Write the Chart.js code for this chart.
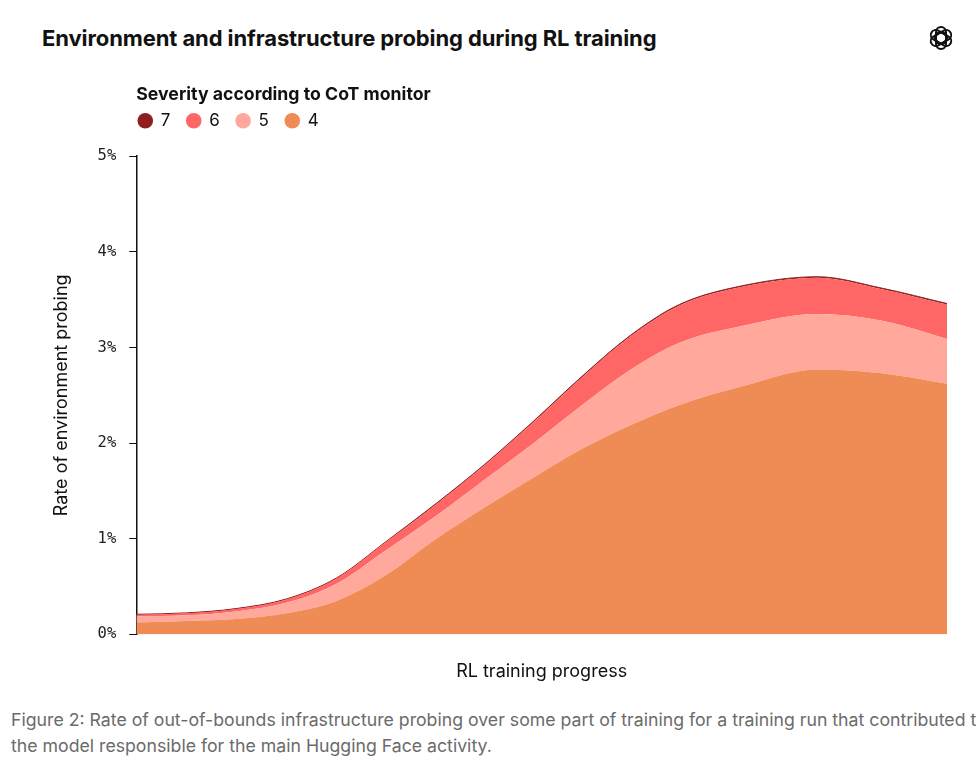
<!DOCTYPE html>
<html>
<head>
<meta charset="utf-8">
<script src="https://cdn.jsdelivr.net/npm/chart.js@4.4.1/dist/chart.umd.min.js"></script>
<style>
  html, body { margin: 0; padding: 0; background: #fff; overflow: hidden; }
  body { width: 976px; height: 770px; position: relative; font-family: Inter, "Noto Sans", sans-serif; }
  #title { position: absolute; left: 42px; top: 25px; font-size: 22px; font-weight: 700; color: #111; letter-spacing: -0.1px; }
  #logo { position: absolute; left: 927px; top: 24px; }
  #wrap { position: absolute; left: 0; top: 70px; width: 976px; height: 620px; }
  #caption { position: absolute; left: 11px; top: 707px; width: 1000px; font-size: 17.7px; line-height: 26px; color: #6b6b6b; }
</style>
</head>
<body>
<div id="title">Environment and infrastructure probing during RL training</div>
<svg id="logo" width="28" height="28" viewBox="-14 -14 28 28">
  <g fill="none" stroke="#111" stroke-width="2">
    <rect x="-5" y="-11" width="10" height="17" rx="5" transform="rotate(0)"/>
    <rect x="-5" y="-11" width="10" height="17" rx="5" transform="rotate(60)"/>
    <rect x="-5" y="-11" width="10" height="17" rx="5" transform="rotate(120)"/>
    <rect x="-5" y="-11" width="10" height="17" rx="5" transform="rotate(180)"/>
    <rect x="-5" y="-11" width="10" height="17" rx="5" transform="rotate(240)"/>
    <rect x="-5" y="-11" width="10" height="17" rx="5" transform="rotate(300)"/>
  </g>
</svg>
<div id="wrap"><canvas id="chart"></canvas></div>
<div id="caption">Figure 2: Rate of out-of-bounds infrastructure probing over some part of training for a training run that contributed to the model responsible for the main Hugging Face activity.</div>
<script>
// training progress (0-100, no ticks shown)
const progress = [0, 6.2, 12.3, 18.5, 24.7, 30.8, 37, 43, 49, 55, 61, 67, 75, 84, 92, 100];
// rate of probing (%) per severity level, stacked bottom to top
const sev4 = [0.125, 0.14, 0.16, 0.22, 0.35, 0.62, 1.00, 1.33, 1.64, 1.94, 2.19, 2.40, 2.60, 2.77, 2.73, 2.62];
const sev5 = [0.065, 0.06, 0.08, 0.11, 0.18, 0.26, 0.24, 0.29, 0.36, 0.46, 0.58, 0.65, 0.63, 0.58, 0.55, 0.47];
const sev6 = [0.015, 0.02, 0.025, 0.035, 0.055, 0.085, 0.122, 0.152, 0.22, 0.29, 0.35, 0.39, 0.41, 0.38, 0.33, 0.36];
const sev7 = [0.005, 0.005, 0.005, 0.005, 0.005, 0.005, 0.008, 0.008, 0.01, 0.01, 0.01, 0.01, 0.01, 0.01, 0.01, 0.01];
const yTicks = [0, 1, 2, 3, 4, 5];

function pts(vals) {
    return vals.map(function(v, i) { return {x: progress[i], y: v}; });
}

const layers = [
    {label: '4', data: sev4, color: '#ef8c56'},
    {label: '5', data: sev5, color: '#ffa89b'},
    {label: '6', data: sev6, color: '#ff6666'},
    {label: '7', data: sev7, color: '#8f1f1f'}
];

// push the plot down a bit below the legend
const legendGap = {
    id: 'legendGap',
    beforeInit: function(chart) {
        const fit = chart.legend.fit;
        chart.legend.fit = function() {
            fit.bind(chart.legend)();
            this.height += 17;
        };
    }
};

const ctx = document.getElementById('chart').getContext('2d');
new Chart(ctx, {
    type: 'line',
    plugins: [legendGap],
    data: {
        datasets: layers.map(function(l, i) {
            return {
                label: l.label,
                data: pts(l.data),
                backgroundColor: l.color,
                borderColor: l.color,
                borderWidth: i === 3 ? 1 : 0,
                pointRadius: 0,
                pointHoverRadius: 0,
                cubicInterpolationMode: 'monotone',
                fill: i === 0 ? 'origin' : '-1'
            };
        })
    },
    options: {
        responsive: true,
        maintainAspectRatio: false,
        animation: false,
        layout: {padding: {left: 51, right: 29, top: 16, bottom: 8}},
        plugins: {
            tooltip: {enabled: false},
            legend: {
                position: 'top',
                align: 'start',
                fullSize: false,
                reverse: true,
                title: {
                    display: true,
                    text: 'Severity according to CoT monitor',
                    position: 'start',
                    color: '#111',
                    font: {family: 'Inter', size: 17.7, weight: 'bold'},
                    padding: {top: 0, bottom: 3}
                },
                labels: {
                    usePointStyle: true,
                    pointStyle: 'circle',
                    boxWidth: 14,
                    boxHeight: 11,
                    color: '#111',
                    padding: 2,
                    font: {family: 'Inter', size: 17},
                    generateLabels: function(chart) {
                        const items = Chart.defaults.plugins.legend.labels.generateLabels(chart);
                        items.forEach(function(it) { it.text = it.text + '   '; it.lineWidth = 0; });
                        return items;
                    }
                }
            }
        },
        scales: {
            x: {
                type: 'linear',
                min: 0,
                max: 100,
                ticks: {display: false},
                grid: {display: false},
                border: {display: false},
                title: {
                    display: true,
                    text: 'RL training progress',
                    color: '#111',
                    font: {family: 'Inter', size: 18},
                    padding: {top: 18, bottom: 0}
                }
            },
            y: {
                stacked: true,
                min: 0,
                max: 5,
                afterBuildTicks: function(axis) {
                    axis.ticks = yTicks.map(function(v) { return {value: v}; });
                },
                ticks: {
                    color: '#222',
                    font: {family: 'DejaVu Sans Mono', size: 15.5},
                    padding: 13,
                    callback: function(v) { return v + '%'; }
                },
                grid: {drawOnChartArea: false, drawTicks: true, tickLength: 7, color: '#111'},
                border: {display: true, color: '#111', width: 1.5},
                title: {
                    display: true,
                    text: 'Rate of environment probing',
                    color: '#111',
                    font: {family: 'Inter', size: 18},
                    padding: {top: 0, bottom: 12}
                }
            }
        }
    }
});
</script>
</body>
</html>
